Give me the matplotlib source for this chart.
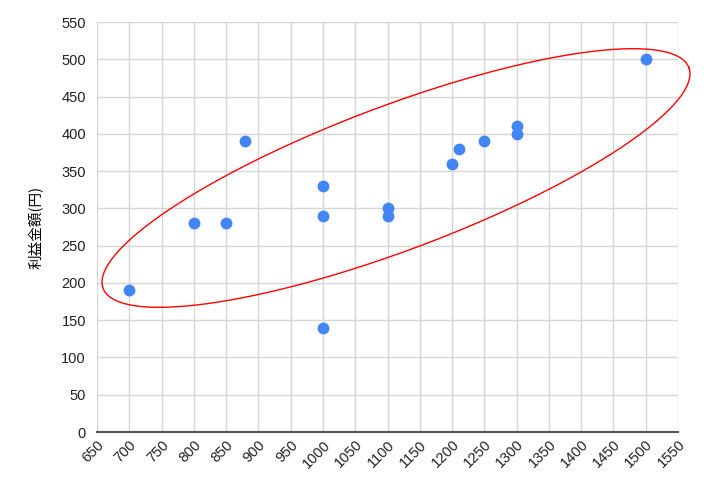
import numpy as np
import matplotlib.pyplot as plt

# data
x_vals = [700, 800, 850, 880, 1000, 1000, 1000, 1100, 1100, 1200, 1210, 1250, 1300, 1300, 1500]
y_vals = [190, 280, 280, 390, 330, 290, 140, 300, 290, 360, 380, 390, 410, 400, 500]
x_ticks = list(range(650, 1551, 50))
y_ticks = list(range(0, 551, 50))
y_label = '利益金額(円)'

plt.rcParams['font.family'] = ['Liberation Sans', 'Noto Sans CJK JP', 'DejaVu Sans']

fig = plt.figure(figsize=(7.18, 4.8), dpi=100)
ax = fig.add_axes([97/718, 48/480, 581/718, 410/480])

ax.plot(x_vals, y_vals, 'o', color='#4285F4', ms=7.5, mec='#4285F4', zorder=3)

ax.set_xlim(650, 1550)
ax.set_ylim(0, 550)
ax.set_xticks(x_ticks)
ax.set_yticks(y_ticks)
ax.set_xticklabels([str(v) for v in x_ticks], rotation=45, ha='right', rotation_mode='anchor')
ax.tick_params(length=0, labelsize=10.5, colors='#222222')
ax.tick_params(axis='y', pad=8)
ax.tick_params(axis='x', pad=4)
ax.grid(True, color='#d6d6d6', lw=1)
ax.set_axisbelow(True)
for s in ['top', 'right', 'left']:
    ax.spines[s].set_visible(False)
ax.spines['bottom'].set_color('#555555')
ax.spines['bottom'].set_linewidth(1.5)
ax.spines['bottom'].set_zorder(2)

ax.set_ylabel(y_label, family=['Noto Sans CJK JP', 'DejaVu Sans'], fontsize=10.5, labelpad=13)

# red ellipse drawn in pixel space of the axes
w_px, h_px = 581, 410
cx, cy = 299, 254
a, b, ang = 313, 72, np.radians(20.65)
t = np.linspace(0, 2*np.pi, 400)
ex = cx + a*np.cos(t)*np.cos(ang) - b*np.sin(t)*np.sin(ang)
ey = cy + a*np.cos(t)*np.sin(ang) + b*np.sin(t)*np.cos(ang)
ax.plot(ex/w_px, ey/h_px, color='red', lw=1, transform=ax.transAxes, clip_on=False, zorder=4)

fig.savefig('out.png', dpi=100)
